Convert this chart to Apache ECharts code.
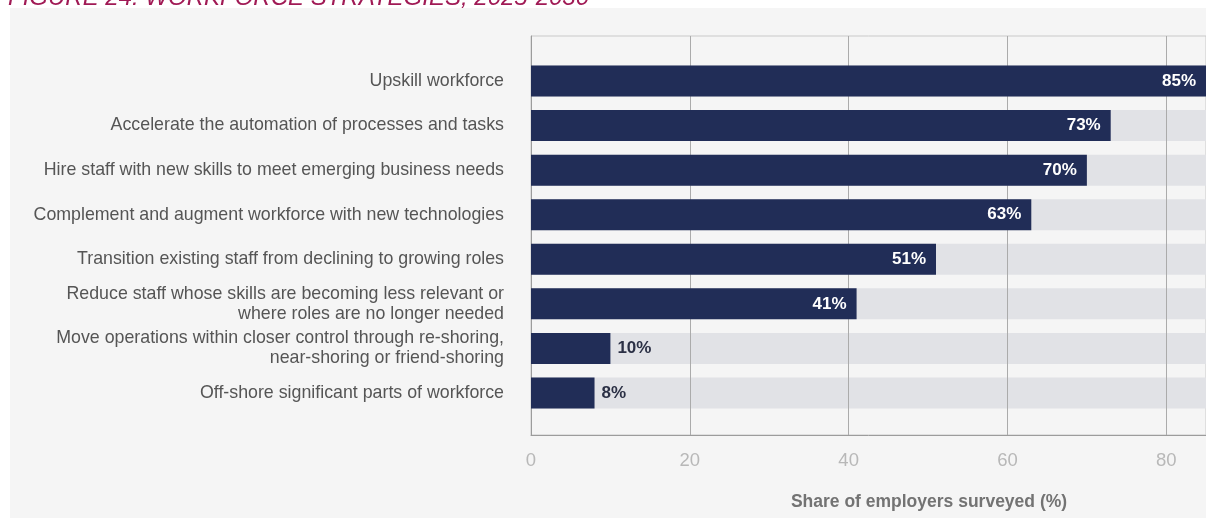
<!DOCTYPE html>
<html>
<head>
<meta charset="utf-8">
<title>Workforce strategies, 2025-2030</title>
<script src="https://cdn.jsdelivr.net/npm/echarts@6/dist/echarts.min.js"></script>
<style>
  html, body { margin: 0; padding: 0; background: #ffffff; }
  #chart { width: 1206px; height: 518px; }
</style>
</head>
<body>
<div id="chart"></div>
<script>
// Strategies, top to bottom
const categories = [
  'Upskill workforce',
  'Accelerate the automation of processes and tasks',
  'Hire staff with new skills to meet emerging business needs',
  'Complement and augment workforce with new technologies',
  'Transition existing staff from declining to growing roles',
  'Reduce staff whose skills are becoming less relevant or\nwhere roles are no longer needed',
  'Move operations within closer control through re-shoring,\nnear-shoring or friend-shoring',
  'Off-shore significant parts of workforce'
];
// Share of employers surveyed (%)
const shares = [85, 73, 70, 63, 51, 41, 10, 8];
const axisMax = 85;
const tickValues = [0, 20, 40, 60, 80];

const NAVY = '#212d57';
const TRACK = '#e1e2e6';

const chart = echarts.init(document.getElementById('chart'), null, { renderer: 'canvas' });

const barData = shares.map(v => ({
  value: v,
  label: v >= 20
    ? { position: 'insideRight', distance: 10, color: '#ffffff' }
    : { position: 'right', distance: 7, color: '#2b3045' }
}));

chart.setOption({
  animation: false,
  backgroundColor: '#ffffff',
  textStyle: { fontFamily: 'Liberation Sans, Arial, sans-serif' },
  graphic: [
    {
      type: 'rect', z: -10, silent: true,
      shape: { x: 10, y: 8, width: 1196, height: 510 },
      style: { fill: '#f5f5f5' }
    },
    {
      type: 'text', z: 10, silent: true,
      x: 8, y: 10,
      style: {
        text: 'FIGURE 24. WORKFORCE STRATEGIES, 2025-2030',
        font: 'italic 24px "Liberation Sans", Arial, sans-serif',
        fill: '#a01a55',
        verticalAlign: 'bottom'
      }
    },
    {
      type: 'text', z: 10, silent: true,
      x: 929, y: 502,
      style: {
        text: 'Share of employers surveyed (%)',
        font: 'bold 17.5px "Liberation Sans", Arial, sans-serif',
        fill: '#737373',
        align: 'center',
        verticalAlign: 'middle'
      }
    }
  ],
  grid: [
    { left: 531, right: 0, top: 36, bottom: 83, show: true, backgroundColor: 'transparent', borderColor: '#c9c9c9', borderWidth: 1 },
    { left: 531, right: 0, top: 58.7, height: 356.6 }
  ],
  xAxis: [
    {
      gridIndex: 0, type: 'value', min: 0, max: axisMax, interval: 20, z: 2,
      axisLine: { show: true, lineStyle: { color: '#9c9c9c', width: 1 } },
      axisTick: { show: false },
      splitLine: { show: true, lineStyle: { color: '#ababab', width: 1 } },
      axisLabel: {
        color: '#b8b8b8', fontSize: 18.5, margin: 16,
        showMaxLabel: false,
        formatter: v => (tickValues.indexOf(v) >= 0 ? String(v) : '')
      }
    },
    {
      gridIndex: 1, type: 'value', min: 0, max: axisMax, show: false,
      splitLine: { show: false }
    }
  ],
  yAxis: [
    {
      gridIndex: 0, type: 'category', data: [''], z: 2,
      axisLine: { show: true, lineStyle: { color: '#9c9c9c', width: 1 } },
      axisTick: { show: false },
      axisLabel: { show: false },
      splitLine: { show: false }
    },
    {
      gridIndex: 1, type: 'category', data: categories, inverse: true,
      axisLine: { show: false },
      axisTick: { show: false },
      axisLabel: {
        color: '#555555', fontSize: 17.8, lineHeight: 20, margin: 27, align: 'right'
      }
    }
  ],
  series: [
    {
      name: 'track', type: 'bar', xAxisIndex: 1, yAxisIndex: 1,
      data: categories.map(() => axisMax),
      barWidth: 31, z: 1, silent: true,
      itemStyle: { color: TRACK }
    },
    {
      name: 'Share of employers', type: 'bar', xAxisIndex: 1, yAxisIndex: 1,
      data: barData,
      barWidth: 31, barGap: '-100%', z: 3,
      itemStyle: { color: NAVY },
      label: {
        show: true,
        formatter: p => p.value + '%',
        fontSize: 17, fontWeight: 'bold'
      }
    }
  ]
});
</script>
</body>
</html>
